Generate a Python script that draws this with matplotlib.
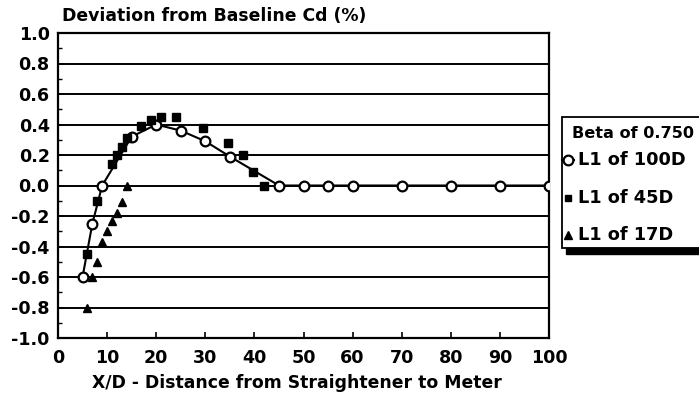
import matplotlib
matplotlib.use("Agg")
import matplotlib.pyplot as plt
from matplotlib.lines import Line2D
from matplotlib.patches import Rectangle
from matplotlib.ticker import MultipleLocator

# L1 of 100D (open circles with line)
x_100 = [5, 7, 9, 15, 20, 25, 30, 35, 45, 50, 55, 60, 70, 80, 90, 100]
y_100 = [-0.60, -0.25, 0.00, 0.32, 0.40, 0.36, 0.29, 0.19, 0.00, 0.00, 0.00, 0.00, 0.00, 0.00, 0.00, 0.00]

# L1 of 45D (filled squares)
x_45 = [6, 8, 11, 12, 13, 14, 17, 19, 21, 24, 29.5, 34.7, 37.7, 39.8, 42]
y_45 = [-0.45, -0.10, 0.14, 0.20, 0.25, 0.31, 0.39, 0.43, 0.45, 0.45, 0.38, 0.28, 0.20, 0.09, 0.00]

# L1 of 17D (filled triangles)
x_17 = [6, 7, 8, 9, 10, 11, 12, 13, 14]
y_17 = [-0.80, -0.60, -0.50, -0.37, -0.30, -0.23, -0.18, -0.11, 0.00]

xticks = [0, 10, 20, 30, 40, 50, 60, 70, 80, 90, 100]
yticks = [-1.0, -0.8, -0.6, -0.4, -0.2, 0.0, 0.2, 0.4, 0.6, 0.8, 1.0]

legend_title = "Beta of 0.750"
legend_labels = ["L1 of 100D", "L1 of 45D", "L1 of 17D"]

plt.rcParams['font.family'] = ['DejaVu Sans']
plt.rcParams['font.weight'] = 'bold'

FS = 12.4
TFS = 12.6
LFS = 12.8
LTFS = 11.6
W, H = 699, 405
fig = plt.figure(figsize=(W/100, H/100), dpi=100)
ax = fig.add_axes([58/W, 1 - 338/H, (549 - 58)/W, (338 - 33)/H])

for yv in yticks:
    ax.axhline(yv, color='black', lw=1.4, zorder=1)

ax.plot(x_100, y_100, '-', color='black', lw=1.5, marker='o', ms=7,
        mfc='white', mec='black', mew=1.6, zorder=3)
ax.plot(x_45, y_45, 's', color='black', ms=5.5, zorder=4)
ax.plot(x_17, y_17, '^', color='black', ms=6, zorder=4)

ax.set_xlim(0, 100)
ax.set_ylim(-1.0, 1.0)
ax.set_xticks(xticks)
ax.set_yticks(yticks)
ax.yaxis.set_minor_locator(MultipleLocator(0.1))
ax.set_xticklabels([str(v) for v in xticks])
ax.set_yticklabels([f"{v:.1f}" for v in yticks])
ax.tick_params(axis='both', which='major', direction='in', length=4, width=1.2, labelsize=TFS)
ax.tick_params(axis='y', which='minor', direction='in', length=3, width=1.0)
ax.tick_params(axis='x', pad=8)
ax.tick_params(axis='y', pad=6)
for s in ax.spines.values():
    s.set_linewidth(1.6)
    s.set_color('black')

fig.text(62/W, 1 - 16/H, "Deviation from Baseline Cd (%)", fontsize=FS,
         fontweight='bold', ha='left', va='center')
fig.text(297/W, 1 - 383/H, "X/D - Distance from Straightener to Meter", fontsize=FS,
         fontweight='bold', ha='center', va='center')

# legend box (extends beyond the right edge, as in the reference)
def fx(px):
    return px / W

def fy(py):
    return 1 - py / H

fig.patches.append(Rectangle((fx(562), fy(248)), fx(760) - fx(562), fy(117) - fy(248),
                             transform=fig.transFigure, facecolor='white',
                             edgecolor='black', lw=1.3, zorder=5))
fig.patches.append(Rectangle((fx(566), fy(254)), fx(W) - fx(566), fy(248) - fy(254),
                             transform=fig.transFigure, color='black', zorder=5))
fig.text(fx(572), fy(133), legend_title, fontsize=LTFS, fontweight='bold',
         ha='left', va='center', zorder=6)
rows_y = [160, 198, 235]
fig.add_artist(Line2D([fx(562), fx(574)], [fy(rows_y[0])] * 2, color='black', lw=1.5,
                      transform=fig.transFigure, zorder=6))
fig.add_artist(Line2D([fx(568)], [fy(rows_y[0])], marker='o', ms=7, mfc='white',
                      mec='black', mew=1.6, transform=fig.transFigure, zorder=7))
fig.add_artist(Line2D([fx(568)], [fy(rows_y[1])], marker='s', ms=5, color='black',
                      transform=fig.transFigure, zorder=7))
fig.add_artist(Line2D([fx(568)], [fy(rows_y[2])], marker='^', ms=5.5, color='black',
                      transform=fig.transFigure, zorder=7))
for lab, ry in zip(legend_labels, rows_y):
    fig.text(fx(578), fy(ry), lab, fontsize=LFS, fontweight='bold',
             ha='left', va='center', zorder=6)

fig.savefig("out.png", dpi=100)
